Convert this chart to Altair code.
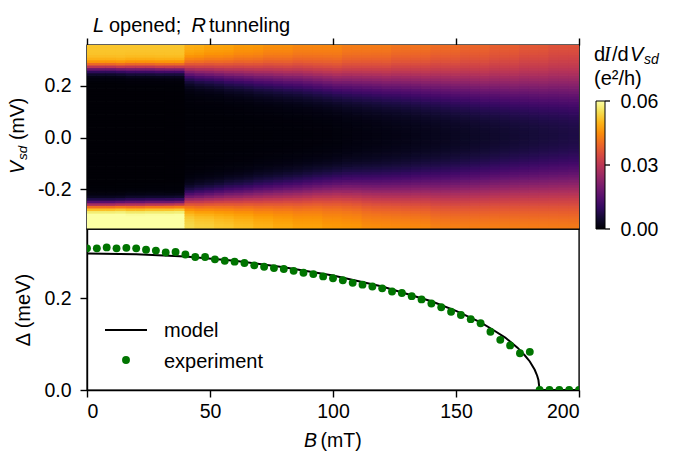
import altair as alt
import numpy as np
import pandas as pd

FONT = "Liberation Sans"

# ---------------- bottom panel data ----------------
B_exp = [0, 4, 8, 12, 16, 20, 24, 28, 32, 36, 40, 44, 48, 52, 56, 60, 64, 68, 72, 76,
         80, 84, 88, 92, 96, 100, 104, 108, 112, 116, 120, 124, 128, 132, 136, 140, 144,
         148, 152, 156, 160, 164, 168, 172, 176, 180, 184, 188, 192, 196, 200]
delta_exp = [0.308, 0.308, 0.310, 0.308, 0.309, 0.308, 0.305, 0.303, 0.299, 0.300,
             0.2945, 0.289, 0.289, 0.284, 0.281, 0.279, 0.276, 0.271, 0.268, 0.265,
             0.263, 0.259, 0.255, 0.252, 0.247, 0.243, 0.2385, 0.233, 0.229, 0.225,
             0.221, 0.214, 0.211, 0.204, 0.197, 0.188, 0.180, 0.170, 0.163, 0.154,
             0.145, 0.1265, 0.109, 0.097, 0.080, 0.083, 0.0, 0.0, 0.0, 0.0, 0.0]

B_model = [0, 20, 40, 60, 80, 100, 120, 140, 150, 160, 165, 170, 175, 178, 180, 182, 183,
           183.5, 184, 200]
delta_model = [0.297, 0.295, 0.290, 0.281, 0.267, 0.249, 0.225, 0.193, 0.172, 0.147, 0.131,
               0.114, 0.092, 0.075, 0.062, 0.044, 0.031, 0.022, 0.0, 0.0]

# ---------------- heat map column profiles ----------------
B_cols = [0, 4, 8, 12, 16, 20, 24, 28, 32, 36, 40, 44, 48, 52, 56, 60, 64, 68, 72, 76,
          80, 84, 88, 92, 96, 100, 104, 108, 112, 116, 120, 124, 128, 132, 136, 140, 144,
          148, 152, 156, 160, 164, 168, 172, 176, 180, 184, 188, 192, 196]
gap_top = [0.272, 0.272, 0.272, 0.271, 0.271, 0.271, 0.271, 0.270, 0.270, 0.270,
           0.262, 0.260, 0.258, 0.256, 0.254, 0.252, 0.250, 0.248, 0.246, 0.244,
           0.242, 0.240, 0.237, 0.234, 0.231, 0.228, 0.227, 0.226, 0.225, 0.224,
           0.222, 0.221, 0.220, 0.219, 0.217, 0.215, 0.213, 0.211, 0.209, 0.207,
           0.205, 0.204, 0.203, 0.202, 0.201, 0.200, 0.199, 0.198, 0.197, 0.196]
gap_bot = [-0.258, -0.258, -0.258, -0.257, -0.257, -0.257, -0.256, -0.256, -0.256, -0.255,
           -0.240, -0.238, -0.236, -0.233, -0.231, -0.229, -0.227, -0.224, -0.222, -0.219,
           -0.217, -0.214, -0.211, -0.208, -0.205, -0.203, -0.203, -0.204, -0.204, -0.205,
           -0.205, -0.205, -0.205, -0.204, -0.203, -0.202, -0.201, -0.200, -0.198, -0.197,
           -0.196, -0.194, -0.193, -0.192, -0.191, -0.190, -0.189, -0.188, -0.187, -0.186]
edge_width = [0.011, 0.011, 0.011, 0.011, 0.012, 0.012, 0.012, 0.012, 0.012, 0.012,
              0.022, 0.024, 0.025, 0.026, 0.028, 0.029, 0.030, 0.032, 0.033, 0.034,
              0.035, 0.036, 0.037, 0.038, 0.039, 0.040, 0.042, 0.043, 0.044, 0.045,
              0.046, 0.047, 0.048, 0.049, 0.050, 0.051, 0.052, 0.053, 0.054, 0.055,
              0.056, 0.057, 0.058, 0.059, 0.060, 0.061, 0.062, 0.063, 0.064, 0.065]
gap_floor = [0.0003, 0.0003, 0.0003, 0.0003, 0.0003, 0.0003, 0.0003, 0.0003, 0.0003, 0.0003,
             0.0005, 0.0005, 0.0005, 0.0005, 0.0005, 0.0005, 0.0005, 0.0005, 0.0005, 0.0005,
             0.0005, 0.0005, 0.0005, 0.0005, 0.0005, 0.0006, 0.0007, 0.0008, 0.0009, 0.0010,
             0.0011, 0.0012, 0.0013, 0.0014, 0.0015, 0.0016, 0.0017, 0.0018, 0.0019, 0.0020,
             0.0021, 0.0022, 0.0023, 0.0024, 0.0025, 0.0026, 0.0027, 0.0028, 0.0029, 0.0030]
out_top = [0.052, 0.052, 0.052, 0.052, 0.052, 0.052, 0.052, 0.052, 0.052, 0.052,
           0.050, 0.050, 0.049, 0.049, 0.049, 0.048, 0.048, 0.048, 0.047, 0.047,
           0.047, 0.046, 0.046, 0.046, 0.046, 0.046, 0.045, 0.045, 0.045, 0.045,
           0.045, 0.044, 0.044, 0.044, 0.044, 0.043, 0.043, 0.043, 0.042, 0.042,
           0.042, 0.041, 0.041, 0.041, 0.040, 0.040, 0.040, 0.039, 0.039, 0.039]
out_bot = [0.062, 0.062, 0.062, 0.062, 0.062, 0.062, 0.062, 0.062, 0.062, 0.062,
           0.055, 0.054, 0.054, 0.053, 0.053, 0.052, 0.052, 0.051, 0.051, 0.050,
           0.050, 0.049, 0.049, 0.049, 0.048, 0.048, 0.048, 0.048, 0.047, 0.047,
           0.047, 0.047, 0.047, 0.047, 0.047, 0.046, 0.046, 0.046, 0.046, 0.046,
           0.046, 0.046, 0.046, 0.046, 0.046, 0.046, 0.046, 0.046, 0.046, 0.046]

cbar_ticks = [0.0, 0.03, 0.06]
cbar_labels = ["0.00", "0.03", "0.06"]

V_rows = np.round(np.arange(-0.355, 0.3551, 0.01), 3)

recs = []
for i, b in enumerate(B_cols):
    w = edge_width[i]
    for v in V_rows:
        up = 1.0 / (1.0 + np.exp(-(v - gap_top[i]) / w))
        dn = 1.0 / (1.0 + np.exp(-(gap_bot[i] - v) / w))
        g = gap_floor[i] + (out_top[i] - gap_floor[i]) * up + (out_bot[i] - gap_floor[i]) * dn
        # each cell reaches slightly under the cells drawn before it (left / below),
        # which hides anti-aliasing seams between neighbouring cells
        recs.append({"b0": b - 0.35, "b1": b + 4, "v0": round(float(v) - 0.008, 4),
                     "v1": round(float(v) + 0.005, 4), "g": round(float(g), 5)})
heat_df = pd.DataFrame(recs)
exp_df = pd.DataFrame({"B": B_exp, "D": delta_exp})
model_df = pd.DataFrame({"B": B_model, "D": delta_model})
one = pd.DataFrame({"k": [0]})

CB_TOP, CB_LEN = 56, 128  # colour bar placement inside the top panel (pixels)


def label(text, x, y, size=20, style="normal", angle=0, font=FONT, baseline="alphabetic"):
    kw = dict(align="left", baseline=baseline, font=font, fontSize=size,
              fontStyle=style, color="black")
    if angle:
        kw["angle"] = angle
    return alt.Chart(one).mark_text(**kw).encode(
        x=alt.value(x), y=alt.value(y), text=alt.value(text))


def tick(x1, x2, y):
    return alt.Chart(one).mark_rule(color="black", strokeWidth=1.3).encode(
        x=alt.value(x1), x2=alt.value(x2), y=alt.value(y))


cscale = alt.Scale(type="linear", scheme="inferno", domain=[0, 0.06], clamp=True)
neg_fmt = "datum.value < 0 ? '-' + format(-datum.value, '.1f') : format(datum.value, '.1f')"

heat = alt.Chart(heat_df).mark_rect(clip=True).encode(
    x=alt.X("b0:Q", title=None, scale=alt.Scale(domain=[0, 200], nice=False, zero=False),
            axis=alt.Axis(orient="top", values=[0, 50, 100, 150, 200], labels=False, tickSize=7)),
    x2="b1:Q",
    y=alt.Y("v0:Q", title=None, scale=alt.Scale(domain=[-0.352, 0.356], nice=False, zero=False),
            axis=alt.Axis(values=[-0.2, 0, 0.2], labelExpr=neg_fmt, tickSize=7, labelPadding=9)),
    y2="v1:Q",
    color=alt.Color("g:Q", scale=cscale, legend=alt.Legend(
        type="gradient", title=None, orient="none", legendX=509, legendY=CB_TOP,
        direction="vertical", gradientLength=CB_LEN, gradientThickness=9,
        gradientStrokeColor="black", gradientStrokeWidth=1, values=cbar_ticks,
        labelExpr="''", labelFontSize=10, labelOffset=2, padding=0)),
)

cbar_layers = []
for val, txt in zip(cbar_ticks, cbar_labels):
    yy = CB_TOP + CB_LEN * (1 - val / 0.06)
    cbar_layers.append(tick(518, 523, yy))
    cbar_layers.append(label(txt, 533.5, yy + 0.5, size=19.5, baseline="middle"))

top = alt.layer(
    heat,
    # panel title
    label("L", 6, -13, style="italic"),
    label("opened;", 22, -13),
    label("R", 104.5, -13, style="italic"),
    label("tunneling", 122, -13),
    # y axis title  V_sd (mV)
    label("V", -63, 129, size=19.5, style="italic", angle=270),
    label("sd", -60, 115, size=13.5, style="italic", angle=270),
    label("(mV)", -63, 95, size=19.5, angle=270),
    # colour bar title  dI/dV_sd (e2/h)
    label("d", 507, 16),
    label("I", 517, 16, style="italic", font="Liberation Serif"),
    label("/d", 525, 16),
    label("V", 543, 16, style="italic"),
    label("sd", 557, 19, size=14, style="italic"),
    label("(e²/h)", 507, 40),
    *cbar_layers,
).properties(width=492, height=184)

xb = alt.X("B:Q", title=None, scale=alt.Scale(domain=[0, 200], nice=False, zero=False),
           axis=alt.Axis(values=[0, 50, 100, 150, 200], tickSize=7, labelPadding=5))
yb = alt.Y("D:Q", title="Δ (meV)", scale=alt.Scale(domain=[0, 0.35], nice=False),
           axis=alt.Axis(values=[0, 0.2], format=".1f", tickSize=7, labelPadding=9,
                         titlePadding=10))

model = alt.Chart(model_df).mark_line(color="black", strokeWidth=2, clip=True).encode(x=xb, y=yb)
exp = alt.Chart(exp_df).mark_circle(color="#007400", size=62, opacity=1, clip=True).encode(
    x=alt.X("B:Q"), y=alt.Y("D:Q"))

bottom = alt.layer(
    model, exp,
    alt.Chart(one).mark_rule(color="black", strokeWidth=2).encode(
        x=alt.value(18), x2=alt.value(60), y=alt.value(101)),
    alt.Chart(one).mark_circle(color="#007400", size=62, opacity=1).encode(
        x=alt.value(39), y=alt.value(131)),
    label("model", 77, 108),
    label("experiment", 77, 139),
    label("B", 217, 218, size=19.5, style="italic"),
    label("(mT)", 233.5, 218, size=19.5),
).properties(width=492, height=161)

chart = alt.vconcat(top, bottom, spacing=0, bounds="flush").properties(
    padding={"left": 7, "top": 15, "right": 5, "bottom": 3}
).configure_view(stroke="black", strokeWidth=1.4).configure_axis(
    labelFont=FONT, labelFontSize=19.5, labelColor="black", tickColor="black",
    domainColor="black", tickWidth=1.4, domainWidth=1.4, grid=False,
    titleFont=FONT, titleFontSize=20, titleFontWeight="normal", titleColor="black")

chart.save("out.html", embed_options={"renderer": "svg", "actions": False})
